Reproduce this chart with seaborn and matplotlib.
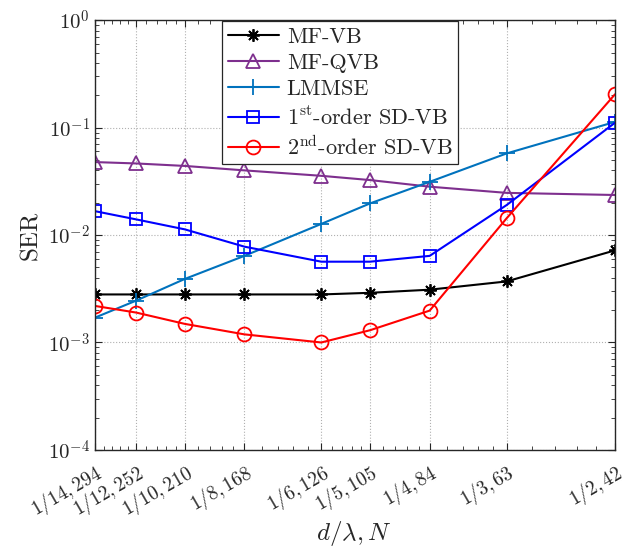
import numpy as np
import pandas as pd
import matplotlib
matplotlib.use('Agg')
import matplotlib.pyplot as plt
import matplotlib.transforms as mtransforms
import seaborn as sns

# d/lambda values and matching N
d_lambda = [1/14, 1/12, 1/10, 1/8, 1/6, 1/5, 1/4, 1/3, 1/2]
tick_labels = ['$1/14, 294$', '$1/12, 252$', '$1/10, 210$', '$1/8, 168$',
               '$1/6, 126$', '$1/5, 105$', '$1/4, 84$', '$1/3, 63$',
               '$1/2, 42$']

mf_vb = [2.8e-3, 2.8e-3, 2.8e-3, 2.8e-3, 2.8e-3, 2.9e-3, 3.1e-3, 3.7e-3, 7.2e-3]
mf_qvb = [0.0478, 0.0464, 0.044, 0.040, 0.0356, 0.0325, 0.0282, 0.0247, 0.0236]
lmmse = [1.7e-3, 2.45e-3, 3.9e-3, 6.4e-3, 0.0127, 0.0197, 0.0313, 0.0575, 0.113]
sdvb1 = [0.0167, 0.014, 0.0113, 0.0078, 5.65e-3, 5.65e-3, 6.4e-3, 0.019, 0.111]
sdvb2 = [2.19e-3, 1.9e-3, 1.49e-3, 1.19e-3, 1.0e-3, 1.3e-3, 1.98e-3, 0.0143, 0.204]

series = [
    ('MF-VB', mf_vb, 'black', (8, 2, 0), 9),
    ('MF-QVB', mf_qvb, '#7E2F8E', '^', 10),
    ('LMMSE', lmmse, '#0072BD', '+', 12),
    ('1$^{\\mathrm{st}}$-order SD-VB', sdvb1, '#0000FF', 's', 8),
    ('2$^{\\mathrm{nd}}$-order SD-VB', sdvb2, '#FF0000', 'o', 10),
]

sns.set_style('ticks')
plt.rcParams['font.family'] = ['cmr10']
plt.rcParams['mathtext.fontset'] = 'cm'
plt.rcParams['axes.formatter.use_mathtext'] = True
plt.rcParams['axes.unicode_minus'] = False

fig = plt.figure(figsize=(6.32, 5.46), dpi=100)
ax = fig.add_axes([0.150, 0.176, 0.823, 0.787])

for name, vals, color, marker, ms in series:
    df = pd.DataFrame({'x': d_lambda, 'y': vals})
    sns.lineplot(data=df, x='x', y='y', ax=ax, color=color, marker=marker,
                 markersize=ms, markerfacecolor='none', markeredgecolor=color,
                 markeredgewidth=1.3, linewidth=1.5, label=name)

ax.set_xscale('log')
ax.set_yscale('log')
ax.set_xlim(1/14, 1/2)
ax.set_ylim(1e-4, 1)

ax.set_xticks(d_lambda)
ax.set_xticklabels(tick_labels, rotation=30, ha='right', rotation_mode='anchor',
                   fontsize=14)
shift = mtransforms.ScaledTranslation(8 / 100, 0, fig.dpi_scale_trans)
for lbl in ax.get_xticklabels():
    lbl.set_transform(lbl.get_transform() + shift)
minor = []
for a, b in zip(d_lambda[:-1], d_lambda[1:]):
    minor.extend(np.linspace(a, b, 6)[1:-1])
ax.set_xticks(minor, minor=True)
ax.xaxis.set_minor_formatter(matplotlib.ticker.NullFormatter())
ax.set_yticks([1e-4, 1e-3, 1e-2, 1e-1, 1])
ax.set_yticklabels(['$10^{-4}$', '$10^{-3}$', '$10^{-2}$', '$10^{-1}$', '$10^{0}$'],
                   fontsize=15)
ax.yaxis.set_minor_locator(matplotlib.ticker.LogLocator(base=10, subs=np.arange(2, 10)))
ax.yaxis.set_minor_formatter(matplotlib.ticker.NullFormatter())

dark = '#262626'
ax.tick_params(which='both', direction='in', top=True, right=True, colors=dark)
ax.tick_params(which='major', length=5, labelcolor=dark)
ax.tick_params(axis='x', which='major', pad=8)
ax.tick_params(which='minor', length=3)
for s in ax.spines.values():
    s.set_color(dark)
    s.set_linewidth(1.0)

ax.grid(True, which='major', linestyle=':', color='#b0b0b0', linewidth=0.8)

ax.set_xlabel('$d/\\lambda, N$', fontsize=18, color=dark, va='center')
ax.xaxis.set_label_coords(0.498, -0.195)
ax.set_ylabel('SER', fontsize=18, color=dark)

leg = ax.legend(loc='upper left', bbox_to_anchor=(0.245, 0.997), fontsize=16,
                frameon=True, fancybox=False, framealpha=1, edgecolor=dark,
                handlelength=2.3, borderpad=0.25, labelspacing=0.3,
                handletextpad=0.35, borderaxespad=0)
leg.get_frame().set_linewidth(0.9)

fig.savefig('out.png', dpi=100)
